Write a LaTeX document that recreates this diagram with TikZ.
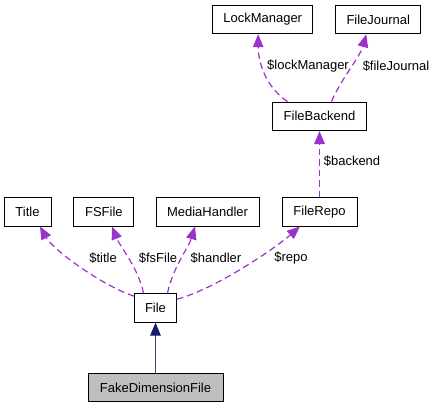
\documentclass[tikz,border=0pt]{standalone}
\usepackage{fontspec}
\setmainfont{Liberation Sans}
\usetikzlibrary{arrows.meta}
\definecolor{UsesClr}{rgb}{0.6,0.2,0.8}
\definecolor{InheritClr}{rgb}{0.1,0.1,0.44}
\definecolor{BaseFillClr}{gray}{0.75}

\begin{document}
\begin{tikzpicture}[x=1pt,y=-1pt,
  classbox/.style={draw=black,line width=0.9pt,fill=white,inner sep=0pt,
    minimum height=28.5pt,font=\fontsize{13}{15}\selectfont},
  edgelabel/.style={inner sep=1pt,font=\fontsize{13}{15}\selectfont},
  usesedge/.style={draw=UsesClr,line width=1.2pt,dash pattern=on 6.5pt off 4pt,
    -{Triangle[length=13pt,width=10.5pt]}},
  inheritedge/.style={draw=InheritClr!80,line width=1.2pt,
    -{Triangle[length=13pt,width=10.5pt,color=InheritClr]}}]
\useasboundingbox (0,0) rectangle (435,408);

\node[classbox,minimum width=100pt] (LockManager) at (262.7,19.5) {LockManager};
\node[classbox,minimum width=85pt] (FileJournal) at (378.3,19.5) {FileJournal};
\node[classbox,minimum width=94pt] (FileBackend) at (319.5,116.3) {FileBackend};
\node[classbox,minimum width=47pt] (Title) at (27.5,211.7) {Title};
\node[classbox,minimum width=60pt] (FSFile) at (103.9,211.7) {FSFile};
\node[classbox,minimum width=103pt] (MediaHandler) at (207.5,211.7) {MediaHandler};
\node[classbox,minimum width=75pt] (FileRepo) at (319.5,211.7) {FileRepo};
\node[classbox,minimum width=42pt] (File) at (155.5,307.9) {File};
\node[classbox,minimum width=135pt,fill=BaseFillClr] (FakeDimensionFile) at (155.5,387.5) {FakeDimensionFile};

\draw[usesedge] ([xshift=-32pt]FileBackend.north) .. controls +(-22,-15) and +(0,28) .. ([xshift=-4.5pt]LockManager.south);
\draw[usesedge] ([xshift=12pt]FileBackend.north) .. controls +(8,-20) and +(-6,22) .. ([xshift=-12pt]FileJournal.south);
\draw[usesedge] (FileRepo.north) -- (FileBackend.south);
\draw[usesedge] ([yshift=-3pt]File.north west) .. controls +(-35,-12) and +(12,22) .. ([xshift=12.5pt]Title.south);
\draw[usesedge] ([xshift=-12pt]File.north) .. controls +(-5,-25) and +(8,20) .. ([xshift=8pt]FSFile.south);
\draw[usesedge] ([xshift=12pt]File.north) .. controls +(5,-25) and +(-6,20) .. ([xshift=-12.5pt]MediaHandler.south);
\draw[usesedge] ([yshift=-6pt]File.north east) .. controls +(38,-10) and +(-25,22) .. ([xshift=-19.5pt]FileRepo.south);
\draw[inheritedge] (FakeDimensionFile.north) -- (File.south);

\node[edgelabel] (lblLockManager) at (308,66) {\$lockManager};
\node[edgelabel] (lblFileJournal) at (396,66) {\$fileJournal};
\node[edgelabel] (lblBackend) at (352,161) {\$backend};
\node[edgelabel] (lblTitle) at (103,258) {\$title};
\node[edgelabel] (lblFsFile) at (158,258) {\$fsFile};
\node[edgelabel] (lblHandler) at (216,258) {\$handler};
\node[edgelabel] (lblRepo) at (291,258) {\$repo};

\end{tikzpicture}
\end{document}
